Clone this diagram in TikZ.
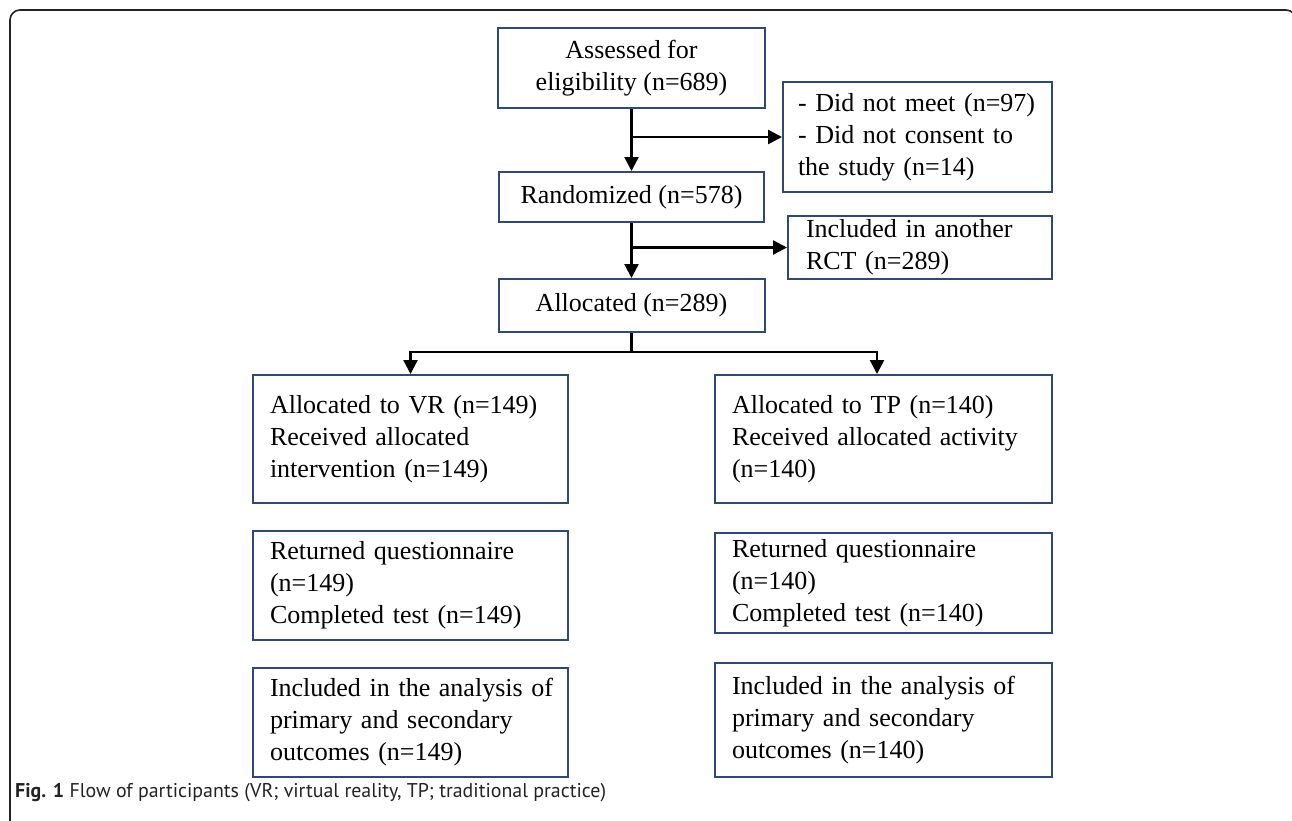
\documentclass[tikz,border=0pt]{standalone}
\usepackage{fontspec}
\setmainfont{Liberation Serif}
\newfontfamily\capfont{PT Sans}
\usetikzlibrary{arrows.meta}
\definecolor{boxblue}{RGB}{47,72,118}
\definecolor{frameg}{RGB}{35,35,35}
\begin{document}
\begin{tikzpicture}[x=1pt,y=1pt,
  box/.style={draw=boxblue, line width=2pt, inner sep=0pt, font=\fontsize{26}{32}\selectfont},
  cbox/.style={box, align=center},
  lbox/.style={box, align=left},
  arr/.style={line width=2.4pt, -{Triangle[length=14pt,width=14pt]}},
  ln/.style={line width=2.4pt}]
\useasboundingbox (0,0) rectangle (1292,-820);
\fill[white] (0,0) rectangle (1292,-820);
% frame
\draw[frameg, line width=1.6pt, rounded corners=10pt] (10,-830) -- (10,-10) -- (1296,-10) -- (1296,-60);
% boxes
\node[cbox, minimum width=267pt, minimum height=80pt] (b1) at (631.5,-68) {Assessed for\\eligibility (n=689)};
\node[lbox, minimum width=269pt, minimum height=110pt, text width=239pt] (b2) at (917.5,-137) {\mbox{- Did not meet (n=97)}\\\mbox{- Did not consent to}\\\mbox{the study (n=14)}};
\node[cbox, minimum width=265pt, minimum height=50pt] (b3) at (631.5,-197) {Randomized (n=578)};
\node[lbox, minimum width=264pt, minimum height=63pt, text width=228pt] (b4) at (920,-247.5) {\mbox{Included in another}\\\mbox{RCT (n=289)}};
\node[cbox, minimum width=266pt, minimum height=53pt] (b5) at (631.5,-305.5) {Allocated (n=289)};
\node[lbox, minimum width=315pt, minimum height=128pt, text width=281pt] (b6) at (410.5,-439) {\mbox{Allocated to VR (n=149)}\\\mbox{Received allocated}\\\mbox{intervention (n=149)}};
\node[lbox, minimum width=337pt, minimum height=128pt, text width=303pt] (b7) at (883.5,-439) {\mbox{Allocated to TP (n=140)}\\\mbox{Received allocated activity}\\\mbox{(n=140)}};
\node[lbox, minimum width=315pt, minimum height=109pt, text width=281pt] (b8) at (410.5,-585.5) {\mbox{Returned questionnaire}\\\mbox{(n=149)}\\\mbox{Completed test (n=149)}};
\node[lbox, minimum width=337pt, minimum height=100pt, text width=303pt] (b9) at (883.5,-583) {\mbox{Returned questionnaire}\\\mbox{(n=140)}\\\mbox{Completed test (n=140)}};
\node[lbox, minimum width=315pt, minimum height=109pt, text width=281pt] (b10) at (410.5,-722.5) {\mbox{Included in the analysis of}\\\mbox{primary and secondary}\\\mbox{outcomes (n=149)}};
\node[lbox, minimum width=337pt, minimum height=114pt, text width=303pt] (b11) at (883.5,-720) {\mbox{Included in the analysis of}\\\mbox{primary and secondary}\\\mbox{outcomes (n=140)}};
% connectors
\coordinate (br1) at (631.5,-137);
\coordinate (br2) at (631.5,-247.5);
\coordinate (sp) at (631.5,-352);
\draw[arr] (b1.south) -- (b3.north);
\draw[arr] (br1) -- (b2.west);
\draw[arr] (b3.south) -- (b5.north);
\draw[arr] (br2) -- (b4.west);
\draw[ln] (b5.south) -- (sp);
\draw[arr] (sp) -| (b6.north);
\draw[arr] (sp) -| ([xshift=-6.5pt]b7.north);
% caption
\node[anchor=base west, inner sep=0pt, text=frameg, font=\capfont\fontsize{19.9}{22}\selectfont] (cap) at (15,-797) {\textbf{Fig. 1} Flow of participants (VR; virtual reality, TP; traditional practice)};
\end{tikzpicture}
\end{document}
